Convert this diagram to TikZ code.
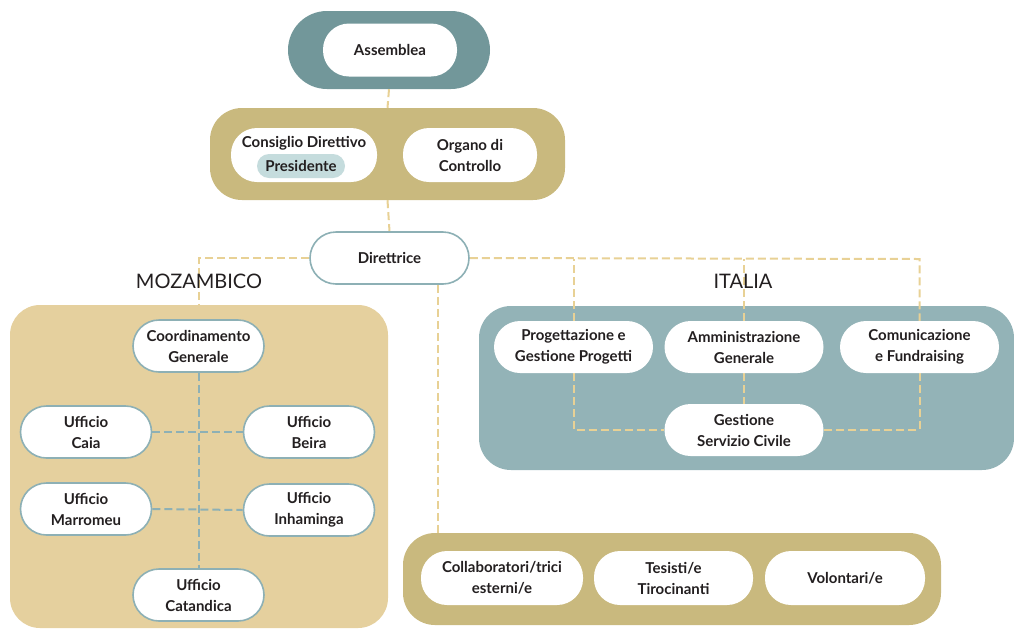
\documentclass[tikz,border=0pt]{standalone}
\usepackage{fontspec}
\setmainfont{Lato}
\usetikzlibrary{positioning}
\definecolor{tealdark}{HTML}{72979A}
\definecolor{goldbox}{HTML}{C9B97E}
\definecolor{sandbox}{HTML}{E5D09E}
\definecolor{tealbox}{HTML}{93B3B7}
\definecolor{tealline}{HTML}{8DB0B5}
\definecolor{yellowline}{HTML}{E8D195}
\definecolor{presfill}{HTML}{C5DCDD}
\definecolor{textdark}{HTML}{231F20}
\pgfdeclarelayer{boxes}
\pgfdeclarelayer{links}
\pgfsetlayers{boxes,links,main}

\begin{document}
\begin{tikzpicture}[x=1pt,y=1pt,yscale=-1,
  textdark,
  pill/.style={fill=white, rounded corners=26pt, minimum width=159pt, minimum height=52pt,
    inner sep=0pt, align=center, font=\bfseries\fontsize{15}{21}\selectfont},
  ringed/.style={pill, draw=tealline, line width=1.6pt},
  area/.style={inner sep=0pt, rounded corners=#1},
  area/.default=32pt,
  dline/.style={yellowline, line width=2pt, dash pattern=on 8pt off 4pt},
  bline/.style={tealline, line width=2pt, dash pattern=on 8pt off 4pt},
  title/.style={font=\fontsize{20}{22}\selectfont}]
\useasboundingbox (0,0) rectangle (1014,630);

% Boxes
\begin{pgfonlayer}{boxes}
\node[area=39pt, fill=tealdark, minimum width=202pt, minimum height=78pt] (asmbox) at (389,50) {};
\node[area, fill=goldbox, minimum width=355pt, minimum height=92pt] (consbox) at (387.5,154) {};
\node[area=30pt, fill=sandbox, minimum width=378pt, minimum height=323pt] (mozbox) at (199,466.5) {};
\node[area, fill=tealbox, minimum width=535pt, minimum height=164pt] (itbox) at (746.5,388) {};
\node[area, fill=goldbox, minimum width=538pt, minimum height=92pt] (botbox) at (672,579) {};
\end{pgfonlayer}

% Governance
\node[pill, minimum width=134pt, minimum height=53pt] (asm) at (390,50) {Assemblea};
\node[pill, minimum width=146pt, minimum height=54pt] (cd) at (304,155) {};
\node[font=\bfseries\fontsize{15}{21}\selectfont, inner sep=0pt] (cdt) at (304,143) {Consiglio Direttivo};
\node[fill=presfill, rounded corners=12pt, minimum width=88pt, minimum height=24pt, inner sep=0pt,
  font=\bfseries\fontsize{15}{21}\selectfont] (pres) at (301,166) {Presidente};
\node[pill, minimum width=134pt, minimum height=54pt] (org) at (470,155) {Organo di\\Controllo};
\node[ringed] (dir) at (389.5,258) {Direttrice};

% Labels
\node[title] (mozt) at (199,281) {MOZAMBICO};
\node[title] (itt) at (743,281) {ITALIA};

% Mozambico
\node[ringed, minimum width=131pt] (coord) at (198.5,346) {Coordinamento\\Generale};
\node[ringed, minimum width=131pt] (caia) at (86,432) {Ufficio\\Caia};
\node[ringed, minimum width=131pt] (beira) at (309,432) {Ufficio\\Beira};
\node[ringed, minimum width=131pt] (marr) at (86,509) {Ufficio\\Marromeu};
\node[ringed, minimum width=131pt] (inh) at (309,510) {Ufficio\\Inhaminga};
\node[ringed, minimum width=131pt] (cat) at (198.5,595) {Ufficio\\Catandica};

% Italia
\node[pill] (prog) at (573.5,347) {Progettazione e\\Gestione Progetti};
\node[pill] (amm) at (744,347) {Amministrazione\\Generale};
\node[pill] (com) at (919.5,347) {Comunicazione\\e Fundraising};
\node[pill] (gest) at (744,430) {Gestione\\Servizio Civile};

% Collaboratori
\node[pill, minimum width=162pt, minimum height=54pt] (col) at (502,578) {Collaboratori/trici\\esterni/e};
\node[pill, minimum height=54pt] (tes) at (673.5,578) {Tesisti/e\\Tirocinanti};
\node[pill, minimum width=160pt, minimum height=54pt] (vol) at (845,578) {Volontari/e};

% Links
\begin{pgfonlayer}{links}
\coordinate (itR) at (919.5,259);
\draw[dline] (asmbox.south) -- (consbox.north);
\draw[dline] (consbox.south) -- (dir.north);
\draw[dline] (dir.west) -| (mozbox.north);
\draw[dline] (dir.east) -- (itR) -- (com.north);
\draw[dline] (prog.north) -- (prog.north |- itR);
\draw[dline] (amm.north) -- (amm.north |- itR);
\draw[dline] (prog.south) |- (gest.west);
\draw[dline] (com.south) |- (gest.east);
\draw[dline] (amm.south) -- (gest.north);
\draw[dline] ([xshift=48pt]dir.south) -- ([xshift=48pt]dir.south |- botbox.north);
\draw[bline] (coord.south) -- (cat.north);
\draw[bline] (caia.east) -- (beira.west);
\draw[bline] (marr.east) -- (inh.west);
\end{pgfonlayer}

\end{tikzpicture}
\end{document}
